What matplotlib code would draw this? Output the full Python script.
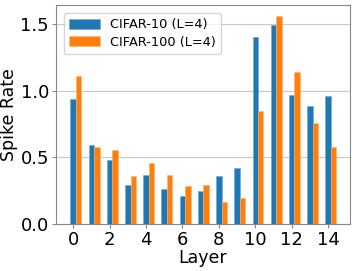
import numpy as np
import matplotlib
matplotlib.use("Agg")
import matplotlib.pyplot as plt

# Valeurs
layers = np.arange(15)
cifar10 = [0.935, 0.5875, 0.48, 0.2925, 0.3625, 0.26, 0.21, 0.245, 0.355, 0.415,
           1.40, 1.49, 0.9675, 0.8825, 0.9575]
cifar100 = [1.1075, 0.575, 0.555, 0.36, 0.455, 0.3675, 0.2825, 0.29, 0.165, 0.1925,
            0.845, 1.56, 1.14, 0.7525, 0.5775]

w = 0.3
fig = plt.figure(figsize=(3.56, 2.71), dpi=100)
ax = fig.add_axes([0.157, 0.175, 0.826, 0.805])

ax.bar(layers, cifar10, w, color='#1f77b4', edgecolor='#6fa8d6', linewidth=0.4,
       label='CIFAR-10 (L=4)', zorder=2)
ax.bar(layers + w, cifar100, w, color='#ff7f0e', edgecolor='#ffb36b', linewidth=0.4,
       label='CIFAR-100 (L=4)', zorder=2)

ax.set_xlim(-0.95, 15.2)
ax.set_ylim(0, 1.64)
ax.set_xticks(np.arange(0, 15, 2))
ax.set_yticks([0.0, 0.5, 1.0, 1.5])
ax.yaxis.grid(True, color='#c8c8c8', linewidth=0.8, zorder=0)
ax.set_axisbelow(True)

for s in ax.spines.values():
    s.set_color('#888888')
ax.tick_params(colors='#888888', labelcolor='black', labelsize=13, length=3, pad=2)

ax.set_xlabel('Layer', fontsize=12.5, labelpad=0)
ax.set_ylabel('Spike Rate', fontsize=12.5, labelpad=2)

ax.legend(loc='upper left', fontsize=9.3, handlelength=2.4, handleheight=0.8,
          borderaxespad=0.6, framealpha=0.8, labelspacing=0.35)

fig.savefig('out.png', dpi=100)
